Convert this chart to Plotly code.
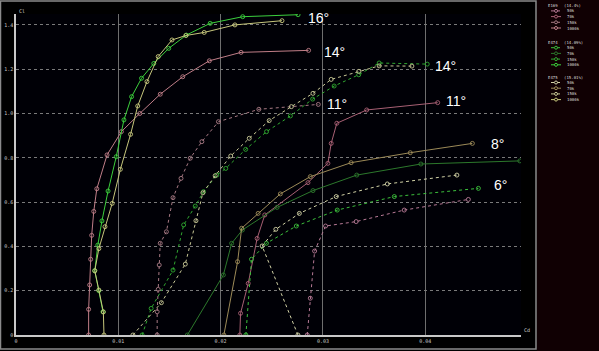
import plotly.graph_objects as go

# ---------------- data ----------------
re_labels = ["50k", "70k", "150k", "1000k"]
airfoils = ["E169", "E474", "E475"]
thickness = ["(14.4%)", "(14.09%)", "(15.01%)"]

# E169
e169_1000k_cd = [0.0071, 0.0071, 0.0072, 0.0073, 0.0074, 0.0076, 0.0079, 0.0089, 0.0103, 0.0121, 0.0141, 0.0163, 0.0189, 0.0220, 0.0286]
e169_1000k_cl = [0.0, 0.116, 0.226, 0.342, 0.45, 0.558, 0.66, 0.813, 0.918, 1.0, 1.087, 1.166, 1.238, 1.276, 1.285]
e169_150k_cd = [0.0138, 0.0138, 0.0139, 0.0140, 0.0141, 0.0147, 0.01535, 0.01613, 0.01703, 0.01817, 0.01979, 0.02374, 0.02955]
e169_150k_cl = [0.0, 0.105, 0.206, 0.316, 0.414, 0.466, 0.62, 0.707, 0.798, 0.873, 0.963, 1.019, 1.041]
e169_70k_cd = [0.02188, 0.02195, 0.0227, 0.02357, 0.02432, 0.02854, 0.03049, 0.03081, 0.03136, 0.03428, 0.04122]
e169_70k_cl = [0.0, 0.098, 0.233, 0.436, 0.542, 0.688, 0.775, 0.865, 0.956, 1.016, 1.049]
e169_50k_cd = [0.02847, 0.02877, 0.02919, 0.03026, 0.03325, 0.03795, 0.04422]
e169_50k_cl = [0.0, 0.166, 0.379, 0.492, 0.512, 0.564, 0.612]

# E474
e474_1000k_cd = [0.0085, 0.0081, 0.0077, 0.0080, 0.0084, 0.0090, 0.0098, 0.01055, 0.0113, 0.01227, 0.01347, 0.01493, 0.01665, 0.01898, 0.02216, 0.02757]
e474_1000k_cl = [0.105, 0.2, 0.29, 0.406, 0.515, 0.65, 0.805, 0.971, 1.076, 1.159, 1.226, 1.294, 1.354, 1.407, 1.437, 1.446]
e474_150k_cd = [0.01233, 0.01321, 0.01535, 0.01639, 0.01752, 0.01833, 0.01963, 0.0205, 0.02245, 0.02449, 0.02682, 0.0290, 0.0311, 0.0335, 0.0355, 0.0402]
e474_150k_cl = [0.0, 0.12, 0.293, 0.497, 0.582, 0.647, 0.722, 0.752, 0.838, 0.918, 0.989, 1.065, 1.124, 1.175, 1.228, 1.223]
e474_70k_cd = [0.01675, 0.02027, 0.02108, 0.02213, 0.02552, 0.02903, 0.03331, 0.03958, 0.04925]
e474_70k_cl = [0.0, 0.271, 0.414, 0.474, 0.576, 0.652, 0.722, 0.772, 0.786]
e474_50k_cd = [0.02247, 0.02302, 0.02448, 0.0274, 0.0314, 0.03698, 0.0452]
e474_50k_cl = [0.0, 0.342, 0.414, 0.492, 0.564, 0.625, 0.662]

# E475
e475_1000k_cd = [0.0086, 0.00854, 0.0081, 0.0077, 0.0081, 0.0087, 0.0094, 0.0102, 0.0112, 0.0119, 0.0128, 0.0139, 0.01525, 0.0166, 0.0184, 0.0214, 0.0260]
e475_1000k_cl = [0.0, 0.104, 0.203, 0.29, 0.39, 0.489, 0.594, 0.748, 0.906, 1.034, 1.144, 1.257, 1.332, 1.352, 1.366, 1.4, 1.419]
e475_150k_cd = [0.01143, 0.01421, 0.01655, 0.01759, 0.01827, 0.01947, 0.02099, 0.0228, 0.02475, 0.02692, 0.02903, 0.03081, 0.0335, 0.0355, 0.0387]
e475_150k_cl = [0.0, 0.146, 0.32, 0.516, 0.642, 0.719, 0.808, 0.888, 0.968, 1.031, 1.091, 1.154, 1.19, 1.215, 1.214]
e475_70k_cd = [0.02032, 0.02166, 0.02206, 0.02367, 0.02584, 0.02877, 0.03276, 0.03854, 0.04461]
e475_70k_cl = [0.0, 0.331, 0.482, 0.549, 0.637, 0.715, 0.778, 0.823, 0.865]
e475_50k_cd = [0.02756, 0.02406, 0.0254, 0.0277, 0.0313, 0.0363, 0.0431]
e475_50k_cl = [0.0, 0.402, 0.477, 0.549, 0.625, 0.682, 0.722]

angle_labels = ["16°", "14°", "14°", "11°", "11°", "8°", "6°"]
angle_cd = [0.0296, 0.0311, 0.0420, 0.0314, 0.0430, 0.0471, 0.0474]
angle_cl = [1.432, 1.276, 1.216, 1.044, 1.057, 0.861, 0.676]

x_ticks = [0, 0.01, 0.02, 0.03, 0.04]
y_ticks = [0, 0.2, 0.4, 0.6, 0.8, 1.0, 1.2, 1.4]

# ---------------- styling ----------------
series = {
    "E169": [(e169_50k_cd, e169_50k_cl), (e169_70k_cd, e169_70k_cl), (e169_150k_cd, e169_150k_cl), (e169_1000k_cd, e169_1000k_cl)],
    "E474": [(e474_50k_cd, e474_50k_cl), (e474_70k_cd, e474_70k_cl), (e474_150k_cd, e474_150k_cl), (e474_1000k_cd, e474_1000k_cl)],
    "E475": [(e475_50k_cd, e475_50k_cl), (e475_70k_cd, e475_70k_cl), (e475_150k_cd, e475_150k_cl), (e475_1000k_cd, e475_1000k_cl)],
}
colors = {
    "E169": ["#b87a96", "#a86074", "#a87a84", "#c07e88"],
    "E474": ["#3cc03c", "#2c782c", "#30a830", "#3cd03c"],
    "E475": ["#d2d2a6", "#9c8a58", "#c8c896", "#c6c67c"],
}
dashes = ["dot", "solid", "dot", "solid"]

W, H = 599, 351
L, R, T, B = 16, 78, 14, 16
PW, PH = W - L - R, H - T - B

def px(x):
    return (x - L) / PW

def py(y):
    return (H - B - y) / PH

fig = go.Figure()
for af in airfoils:
    for i, (cd, cl) in enumerate(series[af]):
        fig.add_trace(go.Scatter(
            x=cd, y=cl, mode="lines+markers",
            name=f"{af} {re_labels[i]}",
            line=dict(color=colors[af][i], width=1, dash=dashes[i]),
            marker=dict(symbol="circle-open", size=4, color=colors[af][i], line=dict(width=0.9)),
            showlegend=False,
        ))

annotations = []
for t, x, y in zip(angle_labels, angle_cd, angle_cl):
    annotations.append(dict(x=x, y=y, xref="x", yref="y", text=t, showarrow=False,
                            font=dict(family="Liberation Sans, Arial", size=14, color="#ffffff"),
                            xanchor="center", yanchor="middle"))

annotations.append(dict(x=px(17), y=py(11), xref="paper", yref="paper", text="Cl", showarrow=False,
                        font=dict(family="DejaVu Sans Mono", size=5, color="#d0d0d0"), xanchor="left", yanchor="middle"))
annotations.append(dict(x=px(522), y=py(330), xref="paper", yref="paper", text="Cd", showarrow=False,
                        font=dict(family="DejaVu Sans Mono", size=5, color="#d0d0d0"), xanchor="left", yanchor="middle"))

shapes = []
# outer frame of plot panel
shapes.append(dict(type="rect", xref="paper", yref="paper", x0=px(0.5), x1=px(536), y0=py(349), y1=py(1),
                   line=dict(color="#8a8a8a", width=1.5), fillcolor="rgba(0,0,0,0)", layer="below"))
# legend panel
shapes.append(dict(type="rect", xref="paper", yref="paper", x0=px(537), x1=px(599.5), y0=py(351.5), y1=py(-0.5),
                   line=dict(width=0), fillcolor="#100003", layer="below"))

# custom compact legend
group_tops = [5.7, 42.5, 77.3]
row_step = 5.7
leg_font = dict(family="DejaVu Sans Mono", size=4, color="#dcdcdc")
for g, af in enumerate(airfoils):
    y0 = group_tops[g]
    annotations.append(dict(x=px(546), y=py(y0), xref="paper", yref="paper", text=af, showarrow=False,
                            font=leg_font, xanchor="left", yanchor="middle"))
    annotations.append(dict(x=px(562), y=py(y0), xref="paper", yref="paper", text=thickness[g], showarrow=False,
                            font=leg_font, xanchor="left", yanchor="middle"))
    for i, lab in enumerate(re_labels):
        yy = y0 + row_step * (i + 1) - 0.5
        c = colors[af][i]
        shapes.append(dict(type="line", xref="paper", yref="paper", x0=px(551), x1=px(561), y0=py(yy), y1=py(yy),
                           line=dict(color=c, width=1, dash=dashes[i])))
        shapes.append(dict(type="circle", xref="paper", yref="paper", x0=px(554.5), x1=px(557.5), y0=py(yy + 1.5), y1=py(yy - 1.5),
                           line=dict(color=c, width=1), fillcolor="#100003"))
        annotations.append(dict(x=px(565), y=py(yy), xref="paper", yref="paper", text=lab, showarrow=False,
                                font=leg_font, xanchor="left", yanchor="middle"))

fig.update_layout(
    width=W, height=H,
    margin=dict(l=L, r=R, t=T, b=B, pad=0),
    paper_bgcolor="#000000",
    plot_bgcolor="#000006",
    showlegend=False,
    annotations=annotations,
    shapes=shapes,
    xaxis=dict(range=[0, PW / 10230], tickvals=x_ticks, ticktext=["0", "0.01", "0.02", "0.03", "0.04"],
               showgrid=True, gridcolor="#6e6e6e", gridwidth=1, griddash="solid",
               showline=True, linecolor="#c8c8c8", linewidth=1.5, zeroline=False, ticks="",
               tickfont=dict(family="DejaVu Sans Mono", size=5, color="#c8c8c8"), automargin=False),
    yaxis=dict(range=[0, PH / 221.5], tickvals=y_ticks, ticktext=["0", "0.2", "0.4", "0.6", "0.8", "1.0", "1.2", "1.4"],
               showgrid=True, gridcolor="#7a7a7a", gridwidth=1, griddash="dot",
               showline=True, linecolor="#c8c8c8", linewidth=1.5, zeroline=False, ticks="",
               tickfont=dict(family="DejaVu Sans Mono", size=5, color="#c8c8c8"), automargin=False),
)

fig.write_html("out.html")
